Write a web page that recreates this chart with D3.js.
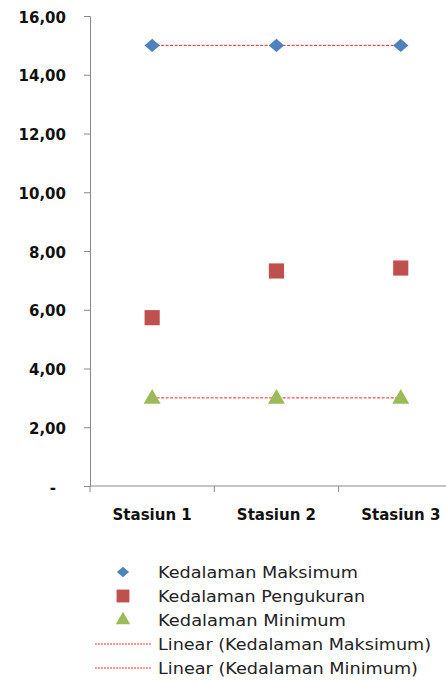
<!DOCTYPE html>
<html>
<head>
<meta charset="utf-8">
<script src="https://cdn.jsdelivr.net/npm/d3@7"></script>
<style>
  html, body { margin: 0; padding: 0; background: #fff; }
  svg { display: block; }
</style>
</head>
<body>
<svg id="chart" width="446" height="682"></svg>
<script>
// Station depth data (metres)
const stations = ["Stasiun 1", "Stasiun 2", "Stasiun 3"];
const depthMax = [15, 15, 15];
const depthMeasured = [5.73, 7.32, 7.42];
const depthMin = [3, 3, 3];
const yTicks = [0, 2, 4, 6, 8, 10, 12, 14, 16];
const legendLabels = [
  "Kedalaman Maksimum",
  "Kedalaman Pengukuran",
  "Kedalaman Minimum",
  "Linear (Kedalaman Maksimum)",
  "Linear (Kedalaman Minimum)"
];

const colors = { max: "#4F81BD", measured: "#C0504D", min: "#9BBB59", trend: "#FF0000", axis: "#888888" };

const svg = d3.select("#chart");
const plotLeft = 90, plotTop = 16, plotBottom = 486, catW = 124.3;

const x = d3.scaleBand().domain(stations).range([plotLeft, plotLeft + catW * stations.length]).padding(0);
const y = d3.scaleLinear().domain([0, 16]).range([plotBottom, plotTop]);
const cx = s => x(s) + x.bandwidth() / 2;

// Y axis
const yAxis = svg.append("g").attr("transform", `translate(${plotLeft},0)`)
  .call(d3.axisLeft(y).tickValues(yTicks).tickSize(6).tickPadding(18)
    .tickFormat(d => d === 0 ? "-" : d3.format(".2f")(d).replace(".", ",")));
yAxis.select(".domain").attr("stroke", colors.axis);
yAxis.selectAll(".tick line").attr("stroke", colors.axis);
yAxis.selectAll(".tick text")
  .attr("font-family", "DejaVu Sans").attr("font-weight", "bold").attr("font-size", 15)
  .attr("fill", "#111").attr("dy", "0.4em")
  .attr("dx", d => d === 0 ? -10 : 0);

// X axis
const xAxisG = svg.append("g").attr("transform", `translate(0,${plotBottom})`);
xAxisG.append("line").attr("x1", plotLeft).attr("x2", 446).attr("stroke", colors.axis);
const boundaries = stations.map(s => x(s));
xAxisG.selectAll("line.tk").data(boundaries).join("line").attr("class", "tk")
  .attr("x1", d => d).attr("x2", d => d).attr("y1", 0).attr("y2", 6).attr("stroke", colors.axis);
xAxisG.selectAll("text").data(stations).join("text")
  .attr("x", d => cx(d)).attr("y", 34).attr("text-anchor", "middle")
  .attr("font-family", "DejaVu Sans").attr("font-weight", "bold").attr("font-size", 15)
  .attr("fill", "#111").text(d => d);

// Linear trend lines
function trend(vals) {
  const line = d3.line().x((d, i) => cx(stations[i])).y(d => y(d));
  svg.append("path").datum(vals).attr("d", line)
    .attr("fill", "none").attr("stroke", colors.trend).attr("stroke-width", 1)
    .attr("stroke-opacity", 0.85).attr("stroke-dasharray", "3,1.5");
}
trend(depthMax);
trend(depthMin);

// Markers
const diamond = d3.symbol().type(d3.symbolDiamond2).size(150);
const square = d3.symbol().type(d3.symbolSquare).size(230);
const tri = d3.symbol().type(d3.symbolTriangle).size(125);

svg.append("g").selectAll("path").data(depthMax).join("path")
  .attr("d", diamond).attr("fill", colors.max)
  .attr("transform", (d, i) => `translate(${cx(stations[i])},${y(d)}) scale(1,0.85)`);
svg.append("g").selectAll("path").data(depthMeasured).join("path")
  .attr("d", square).attr("fill", colors.measured)
  .attr("transform", (d, i) => `translate(${cx(stations[i])},${y(d)})`);
svg.append("g").selectAll("path").data(depthMin).join("path")
  .attr("d", tri).attr("fill", colors.min)
  .attr("transform", (d, i) => `translate(${cx(stations[i])},${y(d) + 1})`);

// Legend
const legendWidths = [200, 207, 188, 273, 260];
const lg = svg.append("g");
const rowY = i => 572 + i * 24;
const lItems = lg.selectAll("g").data(legendLabels).join("g")
  .attr("transform", (d, i) => `translate(0,${rowY(i)})`);
lItems.append("text").attr("x", 158).attr("y", 6)
  .attr("font-family", "DejaVu Sans").attr("font-size", 16).attr("fill", "#222")
  .attr("textLength", (d, i) => legendWidths[i]).attr("lengthAdjust", "spacingAndGlyphs")
  .text(d => d);
lItems.filter((d, i) => i === 0).append("path").attr("d", d3.symbol().type(d3.symbolDiamond2).size(95))
  .attr("fill", colors.max).attr("transform", "translate(123,0) scale(1,0.85)");
lItems.filter((d, i) => i === 1).append("path").attr("d", d3.symbol().type(d3.symbolSquare).size(165))
  .attr("fill", colors.measured).attr("transform", "translate(123,0)");
lItems.filter((d, i) => i === 2).append("path").attr("d", d3.symbol().type(d3.symbolTriangle).size(90))
  .attr("fill", colors.min).attr("transform", "translate(123,0)");
lItems.filter((d, i) => i >= 3).append("line")
  .attr("x1", 95).attr("x2", 152).attr("y1", 0).attr("y2", 0)
  .attr("stroke", colors.trend).attr("stroke-width", 1)
  .attr("stroke-opacity", 0.85).attr("stroke-dasharray", "2,1");
</script>
</body>
</html>
